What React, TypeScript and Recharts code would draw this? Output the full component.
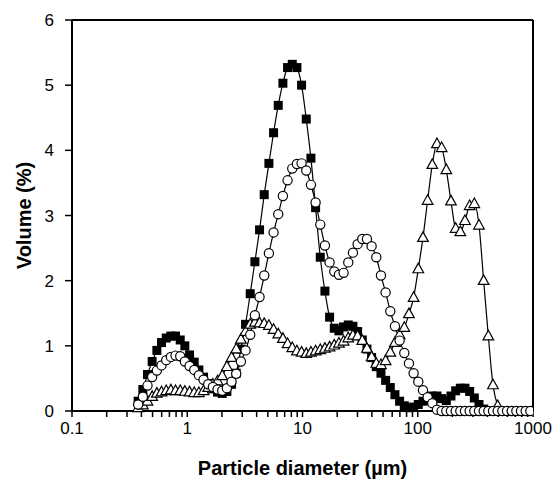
import { LineChart, Line, XAxis, YAxis, ReferenceLine } from "recharts";

// particle size channels (µm)
const diameters = [
  0.375, 0.412, 0.452, 0.496, 0.545, 0.598, 0.657, 0.721, 0.791, 0.869,
  0.953, 1.047, 1.149, 1.261, 1.385, 1.52, 1.668, 1.832, 2.01, 2.207,
  2.423, 2.66, 2.92, 3.205, 3.519, 3.863, 4.24, 4.655, 5.11, 5.61,
  6.158, 6.76, 7.421, 8.147, 8.943, 9.817, 10.78, 11.83, 12.99, 14.26,
  15.65, 17.18, 18.86, 20.71, 22.73, 24.95, 27.39, 30.07, 33.01, 36.24,
  39.78, 43.67, 47.94, 52.62, 57.77, 63.41, 69.61, 76.42, 83.89, 92.09,
  101.1, 111, 121.8, 133.7, 146.8, 161.2, 176.9, 194.2, 213.2, 234.1,
  256.9, 282.1, 309.6, 339.9, 373.1, 409.6, 449.7, 493.6, 541.9, 594.9,
  653, 716.8, 786.9, 863.9, 948.3,
];

// filled squares
const squares = [
  0.15, 0.33, 0.56, 0.76, 0.93, 1.05, 1.12, 1.15, 1.15, 1.09,
  1.0, 0.86, 0.75, 0.63, 0.52, 0.42, 0.34, 0.29, 0.27, 0.3,
  0.41, 0.58, 0.95, 1.33, 1.8, 2.29, 2.78, 3.32, 3.8, 4.27,
  4.69, 5.03, 5.27, 5.32, 5.27, 5.0, 4.48, 3.88, 3.12, 2.36,
  1.84, 1.44, 1.27, 1.23, 1.29, 1.32, 1.3, 1.22, 1.09, 0.95,
  0.82, 0.68, 0.58, 0.47, 0.36, 0.25, 0.15, 0.08, 0.05, 0.06,
  0.1, 0.15, 0.2, 0.23, 0.23, 0.19, 0.16, 0.23, 0.31, 0.35,
  0.35, 0.3, 0.2, 0.1, 0.03,
];

// open circles
const circles = [
  0.1, 0.22, 0.39, 0.52, 0.62, 0.7, 0.78, 0.83, 0.85, 0.84,
  0.76, 0.69, 0.63, 0.55, 0.48, 0.41, 0.37, 0.33, 0.31, 0.35,
  0.45, 0.57, 0.76, 0.93, 1.17, 1.47, 1.75, 2.08, 2.42, 2.74,
  3.02, 3.3, 3.54, 3.72, 3.79, 3.8, 3.69, 3.47, 3.2, 2.86,
  2.54, 2.28, 2.14, 2.09, 2.12, 2.28, 2.43, 2.56, 2.64, 2.64,
  2.53, 2.36, 2.08, 1.82, 1.53, 1.3, 1.08, 0.89, 0.73, 0.58,
  0.45, 0.32, 0.21, 0.12, 0.02, 0, 0, 0, 0, 0,
  0, 0, 0, 0, 0, 0, 0, 0, 0, 0,
  0, 0, 0, 0, 0,
];

// open triangles
const triangles = [
  0.05, 0.09, 0.15, 0.22, 0.27, 0.29, 0.31, 0.32, 0.31, 0.31,
  0.3, 0.29, 0.28, 0.28, 0.31, 0.36, 0.41, 0.46, 0.54, 0.68,
  0.82, 0.95, 1.1, 1.22, 1.33, 1.36, 1.35, 1.34, 1.31, 1.25,
  1.18, 1.11, 1.03, 0.97, 0.92, 0.9, 0.88, 0.9, 0.92, 0.94,
  0.96, 0.98, 1.01, 1.04, 1.07, 1.12, 1.16, 1.15, 1.08, 0.96,
  0.83, 0.73, 0.71, 0.77, 0.9, 1.05, 1.17, 1.28, 1.49, 1.74,
  2.18, 2.66, 3.23, 3.78, 4.1, 4.04, 3.7, 3.22, 2.8, 2.75,
  2.92, 3.15, 3.18, 2.85, 2.0, 1.15, 0.4, 0.08,
];

const majorTicks = [0.1, 1, 10, 100, 1000];
const minorTicks = [
  0.2, 0.3, 0.4, 0.5, 0.6, 0.7, 0.8, 0.9,
  2, 3, 4, 5, 6, 7, 8, 9,
  20, 30, 40, 50, 60, 70, 80, 90,
  200, 300, 400, 500, 600, 700, 800, 900,
];
const yTicks = [0, 1, 2, 3, 4, 5, 6];

const data = diameters.map((d, i) => ({
  d,
  sq: squares[i] ?? null,
  ci: circles[i] ?? null,
  tr: triangles[i] ?? null,
}));

const font = "'Liberation Sans', Arial, sans-serif";

const XTick = (props: any) => {
  const { x, y, payload } = props;
  if (!majorTicks.includes(payload.value)) return <g />;
  return (
    <text x={x} y={y} dy={13} textAnchor="middle" fontSize={17} fill="#000" fontFamily={font}>
      {payload.value}
    </text>
  );
};

const squareDot = (p: any) => {
  if (p.cx == null || p.cy == null || p.value == null) return <g key={`s${p.index}`} />;
  return <rect key={`s${p.index}`} x={p.cx - 4.5} y={p.cy - 4.5} width={9} height={9} fill="#000" />;
};

const circleDot = (p: any) => {
  if (p.cx == null || p.cy == null || p.value == null) return <g key={`c${p.index}`} />;
  return <circle key={`c${p.index}`} cx={p.cx} cy={p.cy} r={4.6} fill="#fff" stroke="#000" strokeWidth={1.2} />;
};

const triangleDot = (p: any) => {
  if (p.cx == null || p.cy == null || p.value == null) return <g key={`t${p.index}`} />;
  const { cx, cy } = p;
  return (
    <polygon
      key={`t${p.index}`}
      points={`${cx},${cy - 5.8} ${cx - 5.3},${cy + 3.8} ${cx + 5.3},${cy + 3.8}`}
      fill="#fff"
      stroke="#000"
      strokeWidth={1.2}
    />
  );
};

export default function App() {
  return (
    <div style={{ position: "absolute", left: 0, top: 0 }}>
      <LineChart
        width={555}
        height={485}
        data={data}
        margin={{ top: 20, right: 22, bottom: 0, left: 0 }}
        style={{ fontFamily: font }}
      >
        <XAxis
          dataKey="d"
          type="number"
          scale="log"
          domain={[0.1, 1000]}
          allowDataOverflow
          ticks={[...majorTicks, ...minorTicks]}
          interval={0}
          height={74}
          tickSize={6}
          tickMargin={4}
          axisLine={{ stroke: "#000", strokeWidth: 2 }}
          tickLine={{ stroke: "#000", strokeWidth: 1.5 }}
          tick={<XTick />}
          label={{
            value: "Particle diameter (µm)",
            position: "insideBottom",
            offset: 10,
            style: { fontWeight: "bold", fontSize: 20, fill: "#000", fontFamily: font },
          }}
        />
        <YAxis
          type="number"
          domain={[0, 6]}
          ticks={yTicks}
          interval={0}
          width={72}
          tickSize={7}
          tickMargin={11}
          axisLine={{ stroke: "#000", strokeWidth: 2 }}
          tickLine={{ stroke: "#000", strokeWidth: 1.5 }}
          tick={{ fill: "#000", fontSize: 17, fontFamily: font }}
          label={{
            value: "Volume (%)",
            angle: -90,
            position: "insideLeft",
            offset: 24,
            style: { textAnchor: "middle", fontWeight: "bold", fontSize: 20, fill: "#000", fontFamily: font },
          }}
        />
        <ReferenceLine y={6} stroke="#000" strokeWidth={2} />
        <ReferenceLine x={1000} stroke="#000" strokeWidth={2} />
        <Line
          dataKey="sq"
          type="monotone"
          stroke="#000"
          strokeWidth={1.2}
          dot={squareDot}
          activeDot={false}
          isAnimationActive={false}
        />
        <Line
          dataKey="tr"
          type="monotone"
          stroke="#000"
          strokeWidth={1.2}
          dot={triangleDot}
          activeDot={false}
          isAnimationActive={false}
        />
        <Line
          dataKey="ci"
          type="monotone"
          stroke="#000"
          strokeWidth={1.2}
          dot={circleDot}
          activeDot={false}
          isAnimationActive={false}
        />
      </LineChart>
    </div>
  );
}
